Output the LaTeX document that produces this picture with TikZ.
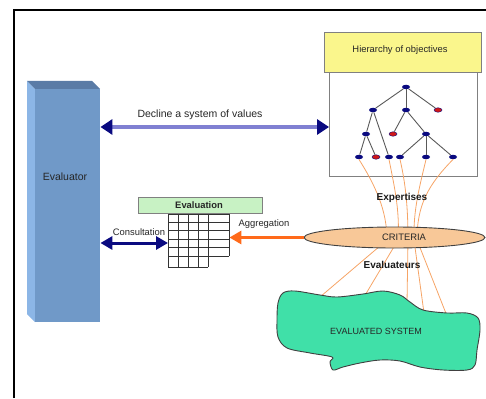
\documentclass[tikz,border=0pt]{standalone}
\usepackage{fontspec}
\setmainfont{Liberation Sans}
\usetikzlibrary{arrows.meta,shapes.geometric}
\definecolor{evfront}{HTML}{7099C8}
\definecolor{evside}{HTML}{8CB6E6}
\definecolor{evtop}{HTML}{5A7BA6}
\definecolor{navy}{HTML}{0A0A80}
\definecolor{lav}{HTML}{8080D2}
\definecolor{hyellow}{HTML}{FAF68C}
\definecolor{egreen}{HTML}{C8F2C4}
\definecolor{crit}{HTML}{F8C898}
\definecolor{aqua}{HTML}{40E0A8}
\definecolor{orng}{HTML}{FF6A1A}
\definecolor{lorng}{HTML}{F6A466}
\definecolor{tred}{HTML}{D01818}
\tikzset{
  txt/.style={font=\fontsize{9.4}{11}\selectfont, text=black!85, inner sep=0},
  txtb/.style={font=\fontsize{10}{12}\selectfont\bfseries, text=black!90, inner sep=0},
  tn/.style={ellipse, fill=navy, minimum width=8pt, minimum height=4.5pt, inner sep=0},
  tnr/.style={tn, fill=tred, draw=navy, line width=.4pt},
  tedge/.style={draw=black!65, line width=.9pt},
  oline/.style={draw=lorng, line width=.8pt},
  gline/.style={draw=black!80, line width=.7pt},
}
\begin{document}
\begin{tikzpicture}[x=1pt,y=-1pt]
\useasboundingbox (0,0) rectangle (486,398);
% frame
\draw[line width=1.2pt] (14,398) -- (14,10) -- (486,10);

% Evaluator 3D box
\fill[evside] (27,81) -- (35,89) -- (35,322) -- (27,314) -- cycle;
\fill[evtop] (27,81) -- (92,81) -- (100,89) -- (35,89) -- cycle;
\node[fill=evfront, minimum width=65pt, minimum height=233pt, inner sep=0, anchor=north west] (evaluator) at (35,89) {};
\node[txt, font=\fontsize{10.5}{12}\selectfont] (evaltxt) at (65,177) {Evaluator};

% hierarchy box
\node[draw=gray, line width=.8pt, minimum width=148pt, minimum height=104pt, inner sep=0, anchor=north west] (treebox) at (329,72) {};
\node[draw=gray, line width=.8pt, fill=hyellow, minimum width=157pt, minimum height=40pt, inner sep=0, anchor=north west] (hier) at (324,32) {};
\node[txt] (hiertxt) at (400,50) {Hierarchy of objectives};

% tree
\node[tn] (r) at (406,87) {};
\node[tn] (a) at (373,110) {};
\node[tn] (b) at (406,110) {};
\node[tnr] (c) at (438,110) {};
\node[tn] (d) at (366,134) {};
\node[tnr] (e) at (393,134) {};
\node[tn] (f) at (426,134) {};
\node[tn] (g) at (359,157) {};
\node[tnr] (h) at (376,157) {};
\node[tn] (i) at (389,157) {};
\node[tn] (j) at (400,157) {};
\node[tn] (k) at (426,157) {};
\node[tn] (l) at (453,157) {};
\foreach \p/\q in {r/a,r/b,r/c,a/d,a/i,b/e,b/f,d/g,d/h,f/j,f/k,f/l}
  \draw[tedge] (\p) -- (\q);

% decline arrow
\coordinate (yDecl) at (0,127);
\draw[lav, line width=3.5pt, {Triangle[length=12pt,width=15pt,color=navy]}-{Triangle[length=12pt,width=15pt,color=navy]}]
  (evaluator.east |- yDecl) -- (treebox.west |- yDecl);
\node[txt, font=\fontsize{10.5}{12}\selectfont] (decltxt) at (200,115) {Decline a system of values};

% orange lines (under ellipse and blob)
\coordinate (b1) at (320,297);
\coordinate (b2) at (364,297);
\coordinate (b3) at (407,303);
\coordinate (b4) at (424,313);
\coordinate (b5) at (447,316);
\draw[oline] (g.south) .. controls (375,185) and (387,210) .. (387,240) -- (b1);
\draw[oline] (i.south) .. controls (394,185) and (400,210) .. (398,240) -- (b2);
\draw[oline] (j.south) .. controls (406,185) and (408,210) .. (408,240) -- (b3);
\draw[oline] (k.south) .. controls (420,185) and (413,210) .. (414,240) -- (b4);
\draw[oline] (l.south) .. controls (428,185) and (417,205) .. (417,240) -- (b5);

% criteria ellipse
\node[ellipse, draw=black!75, line width=.9pt, fill=crit, minimum width=181pt, minimum height=21pt, inner sep=0] (crit) at (394.5,237.5) {};
\node[txt] (crittxt) at (404,237) {CRITERIA};
\node[txtb] (expert) at (402,198) {Expertises};
\node[txtb] (evalrs) at (392,265) {Evaluateurs};

% evaluated system blob
\draw[draw=black!75, line width=.9pt, fill=aqua] plot[smooth cycle, tension=0.55] coordinates {
 (283,293) (295,291) (320,295) (337,297) (363,294) (383,291) (400,295) (410,302)
 (423,310) (447,313) (467,313) (478,318) (480,330) (477,350) (475,365) (467,370)
 (443,370) (420,367) (400,361) (380,360) (360,363) (343,367) (333,370) (330,362)
 (332,357) (310,353) (287,348) (278,337) (277,320) (278,303)};
\node[txt, font=\fontsize{9}{11}\selectfont] (evsys) at (376,331) {EVALUATED SYSTEM};

% evaluation table
\node[draw=gray, line width=.8pt, fill=egreen, minimum width=124pt, minimum height=16pt, inner sep=0, anchor=north west] (evalhdr) at (138,197) {};
\node[txt, font=\fontsize{9.4}{11}\selectfont\bfseries] (evalhdrtxt) at (199,205) {Evaluation};
\node[minimum width=61pt, minimum height=53pt, inner sep=0, anchor=north west] (table) at (168,214) {};
\foreach \y in {214,222,230,239,247,256} \draw[gline] (168,\y) -- (229,\y);
\draw[gline] (168,267) -- (208,267);
\foreach \x in {168,178,188,198,208} \draw[gline] (\x,214) -- (\x,267);
\draw[gline] (229,214) -- (229,256);

% consultation arrow
\coordinate (yCons) at (0,243);
\draw[navy, line width=3pt, {Triangle[length=12pt,width=13pt]}-{Triangle[length=12pt,width=13pt]}]
  (evaluator.east |- yCons) -- (table.west |- yCons);
\node[txt] (constxt) at (139,232) {Consultation};

% aggregation arrow
\draw[orng, line width=3.5pt, -{Triangle[length=12pt,width=13pt]}]
  (crit.west) -- (table.east |- crit.west);
\node[txt] (aggtxt) at (264,224) {Aggregation};
\end{tikzpicture}
\end{document}
